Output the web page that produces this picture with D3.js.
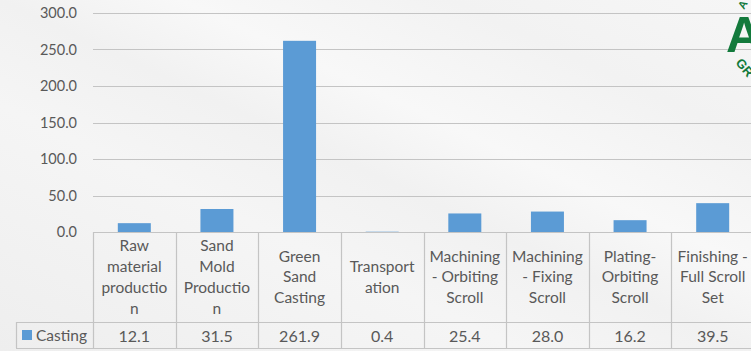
<!DOCTYPE html>
<html>
<head>
<meta charset="utf-8">
<script src="https://cdn.jsdelivr.net/npm/d3@7"></script>
<style>
  html, body { margin: 0; padding: 0; background: #f3f3f3; overflow: hidden; }
  svg { display: block; }
  text { font-family: Lato, "Open Sans", "Liberation Sans", sans-serif; fill: #595959; }
</style>
</head>
<body>
<svg id="chart" width="751" height="351"></svg>
<script>
// Process stages (each entry holds the wrapped lines shown in the table header cells)
const categories = [
  ["Raw", "material", "productio", "n"],
  ["Sand", "Mold", "Productio", "n"],
  ["Green", "Sand", "Casting"],
  ["Transport", "ation"],
  ["Machining", "- Orbiting", "Scroll"],
  ["Machining", "- Fixing", "Scroll"],
  ["Plating-", "Orbiting", "Scroll"],
  ["Finishing -", "Full Scroll", "Set"]
];
const seriesName = "Casting";
const castingValues = [12.1, 31.5, 261.9, 0.4, 25.4, 28.0, 16.2, 39.5];
const yTicks = [0, 50, 100, 150, 200, 250, 300];

const svg = d3.select("#chart");
const W = 751, H = 351;
const plotLeft = 93, plotRight = 754, plotTop = 13, axisY = 232;
const headerBottom = 322, tableBottom = 348, legendLeft = 16;

// Background with soft diagonal light streaks
const defs = svg.append("defs");
const bg = defs.append("linearGradient").attr("id", "bg")
  .attr("x1", "0").attr("y1", "1").attr("x2", "1").attr("y2", "0");
[[0, "#eeeeee"], [0.35, "#f5f5f5"], [0.5, "#f1f1f1"], [0.62, "#f8f8f8"], [0.8, "#f2f2f2"], [1, "#f6f6f6"]]
  .forEach(([o, c]) => bg.append("stop").attr("offset", o).attr("stop-color", c));
svg.append("rect").attr("width", W).attr("height", H).attr("fill", "url(#bg)");

const x = d3.scaleBand().domain(d3.range(categories.length)).range([plotLeft, plotRight]).paddingInner(0).paddingOuter(0);
const y = d3.scaleLinear().domain([0, 300]).range([axisY, plotTop]);

// Gridlines + tick labels
const yAxis = d3.axisLeft(y).tickValues(yTicks).tickFormat(d3.format(".1f")).tickSize(0).tickPadding(16);
const gy = svg.append("g").attr("transform", `translate(${plotLeft},0)`).call(yAxis);
gy.select(".domain").remove();
gy.selectAll("text").attr("font-size", 14.5).attr("fill", "#595959")
  .style("font-family", 'Lato, "Open Sans", sans-serif');
svg.append("g").selectAll("line").data(yTicks.filter(d => d > 0)).join("line")
  .attr("x1", plotLeft).attr("x2", W).attr("y1", d => Math.round(y(d)) + 0.5).attr("y2", d => Math.round(y(d)) + 0.5)
  .attr("stroke", "#c4c4c4").attr("stroke-width", 1.2);

// Bars
const barW = 33;
svg.append("g").selectAll("rect").data(castingValues).join("rect")
  .attr("x", (d, i) => x(i) + x.bandwidth() / 2 - barW / 2)
  .attr("width", barW)
  .attr("y", d => y(d))
  .attr("height", d => y(0) - y(d))
  .attr("fill", "#5b9bd5");

// Data table
const grid = svg.append("g").attr("stroke", "#c4c4c4").attr("stroke-width", 1.2).attr("fill", "none");
grid.append("line").attr("x1", plotLeft).attr("x2", W).attr("y1", axisY + 0.5).attr("y2", axisY + 0.5);
grid.append("line").attr("x1", legendLeft).attr("x2", W).attr("y1", headerBottom + 0.5).attr("y2", headerBottom + 0.5);
grid.append("line").attr("x1", legendLeft).attr("x2", W).attr("y1", tableBottom + 0.5).attr("y2", tableBottom + 0.5);
grid.append("line").attr("x1", legendLeft + 0.5).attr("x2", legendLeft + 0.5).attr("y1", headerBottom).attr("y2", tableBottom);
const borders = d3.range(categories.length + 1).map(i => i < categories.length ? x(i) : plotRight);
grid.selectAll("line.col").data(borders).join("line").attr("class", "col")
  .attr("x1", d => Math.round(d) + 0.5).attr("x2", d => Math.round(d) + 0.5)
  .attr("y1", axisY).attr("y2", tableBottom);

// Header cell labels
const lineH = 20.8;
const hdr = svg.append("g");
categories.forEach((lines, i) => {
  const cx = x(i) + x.bandwidth() / 2;
  const cy = (axisY + headerBottom) / 2;
  const t = hdr.append("text").attr("text-anchor", "middle").attr("font-size", 15.5);
  lines.forEach((ln, k) => {
    t.append("tspan").attr("x", cx)
      .attr("y", cy + (k - (lines.length - 1) / 2) * lineH)
      .attr("dy", "0.35em").text(ln);
  });
});

// Value row
svg.append("g").selectAll("text").data(castingValues).join("text")
  .attr("x", (d, i) => x(i) + x.bandwidth() / 2)
  .attr("y", (headerBottom + tableBottom) / 2 + 1)
  .attr("dy", "0.35em").attr("text-anchor", "middle").attr("font-size", 16)
  .text(d => d.toFixed(1));

// Legend key
svg.append("rect").attr("x", 22).attr("y", 330).attr("width", 10).attr("height", 10).attr("fill", "#5b9bd5");
svg.append("text").attr("x", 36).attr("y", (headerBottom + tableBottom) / 2 + 1).attr("dy", "0.35em")
  .attr("font-size", 15.5).text(seriesName);

// Corner logo (partly cut off at the page edge)
const logo = svg.append("g");
logo.append("text").attr("x", 726).attr("y", 52).attr("font-size", 50).attr("font-weight", 900)
  .style("fill", "#137a3c").style("font-family", '"Liberation Sans", sans-serif').text("A");
logo.append("text").attr("transform", "translate(735,63) rotate(50)").attr("font-size", 13).attr("font-weight", 700)
  .style("fill", "#137a3c").style("font-family", '"Liberation Sans", sans-serif').text("GR");
logo.append("text").attr("transform", "translate(744,10) rotate(-60)").attr("font-size", 11).attr("font-weight", 700)
  .style("fill", "#137a3c").style("font-family", '"Liberation Sans", sans-serif').text("A");
</script>
</body>
</html>
